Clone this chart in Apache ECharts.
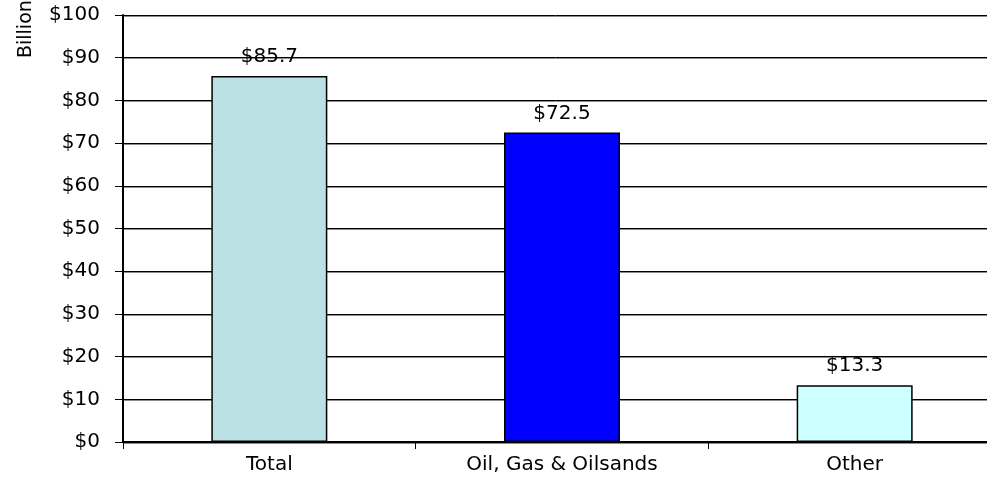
<!DOCTYPE html>
<html>
<head>
<meta charset="utf-8">
<script src="https://cdn.jsdelivr.net/npm/echarts@6/dist/echarts.min.js"></script>
<style>
  html, body { margin: 0; padding: 0; background: #fff; }
  #chart { width: 987px; height: 490px; }
</style>
</head>
<body>
<div id="chart"></div>
<script>
// Investment by sector, in billions of dollars
const categories = ['Total', 'Oil, Gas & Oilsands', 'Other'];
const values = [85.7, 72.5, 13.3];
const barColors = ['#BBE0E3', '#0000FF', '#CCFFFF'];
const yTicks = [0, 10, 20, 30, 40, 50, 60, 70, 80, 90, 100];
const unitLabel = 'Billions';

const FONT = 'DejaVu Sans, Verdana, sans-serif';
const FS = 20;

const chart = echarts.init(document.getElementById('chart'));
chart.setOption({
  animation: false,
  grid: { left: 123, top: 15, bottom: 48, right: -14, outerBoundsMode: 'none', containLabel: false },
  graphic: [{
    type: 'text',
    x: 17,
    y: 58,
    rotation: Math.PI / 2,
    style: { text: unitLabel, fill: '#000', font: (FS - 1) + 'px ' + FONT, textAlign: 'left', textVerticalAlign: 'top' }
  }],
  xAxis: {
    type: 'category',
    data: categories,
    axisLine: { lineStyle: { color: '#000', width: 2 } },
    axisTick: { show: true, length: 7, lineStyle: { color: '#000', width: 1 } },
    axisLabel: { color: '#000', fontFamily: FONT, fontSize: FS, margin: 13 },
    splitLine: { show: false }
  },
  yAxis: {
    type: 'value',
    min: yTicks[0],
    max: yTicks[yTicks.length - 1],
    interval: 10,
    axisLine: { show: true, lineStyle: { color: '#000', width: 2 } },
    axisTick: { show: true, length: 8, lineStyle: { color: '#000', width: 1 } },
    axisLabel: {
      color: '#000', fontFamily: FONT, fontSize: FS, margin: 23,
      formatter: v => '$' + v
    },
    splitLine: {
      show: true,
      lineStyle: { color: '#000', width: 1, shadowColor: 'rgba(0,0,0,0.45)', shadowOffsetY: 1, shadowBlur: 0 }
    }
  },
  series: [{
    type: 'bar',
    barWidth: 116,
    data: values.map((v, i) => ({
      value: v,
      itemStyle: { color: barColors[i], borderColor: '#000', borderWidth: 1.5 }
    })),
    label: {
      show: true,
      position: 'top',
      distance: 9,
      color: '#000',
      fontFamily: FONT,
      fontSize: FS,
      formatter: p => '$' + p.value.toFixed(1)
    }
  }]
});
</script>
</body>
</html>
